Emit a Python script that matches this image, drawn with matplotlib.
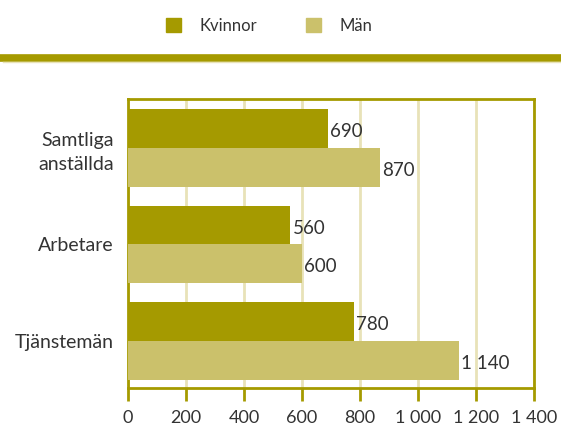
import matplotlib
matplotlib.use("Agg")
import matplotlib.pyplot as plt
from matplotlib.patches import Patch
from matplotlib.lines import Line2D
from matplotlib.ticker import FuncFormatter

plt.rcParams['font.family'] = ['Lato', 'DejaVu Sans']

categories = ["Samtliga\nanställda", "Arbetare", "Tjänstemän"]
kvinnor = [690, 560, 780]
man = [870, 600, 1140]
series_names = ["Kvinnor", "Män"]
xticks = [0, 200, 400, 600, 800, 1000, 1200, 1400]

dark = "#a59a00"
light = "#cbc16b"
grid = "#e8e2b8"
text_color = "#333333"


def fmt(v, pos=None):
    return f"{int(v):,}".replace(",", " ")


fig = plt.figure(figsize=(5.61, 4.28), dpi=100)
ax = fig.add_axes([0.228, 0.0935, 0.724, 0.675])

h = 0.4
ypos = list(range(len(categories)))
b1 = ax.barh([y - h / 2 for y in ypos], kvinnor, height=h, color=dark, zorder=3)
b2 = ax.barh([y + h / 2 for y in ypos], man, height=h, color=light, zorder=3)

for bars, vals in ((b1, kvinnor), (b2, man)):
    for bar, v in zip(bars, vals):
        ax.text(bar.get_width() + 7, bar.get_y() + bar.get_height() / 2 + 0.03,
                fmt(v), va="center", ha="left", fontsize=13.5, color=text_color)

ax.set_xlim(0, 1400)
ax.set_ylim(2.485, -0.505)
ax.set_xticks(xticks)
ax.xaxis.set_major_formatter(FuncFormatter(fmt))
ax.set_yticks(ypos)
ax.set_yticklabels(categories, fontsize=14, color=text_color, linespacing=1.45)
ax.tick_params(axis="y", length=0, pad=10)
ax.tick_params(axis="x", length=9, width=2, color=dark, labelsize=13,
               labelcolor=text_color, pad=7)
ax.grid(axis="x", color=grid, linewidth=2, zorder=0)
for s in ax.spines.values():
    s.set_color(dark)
    s.set_linewidth(2)

# legend on top
handles = [Patch(color=dark), Patch(color=light)]
fig.legend(handles, series_names, loc="center", bbox_to_anchor=(0.48, 0.94),
           ncol=2, frameon=False, handlelength=0.9, handleheight=0.9,
           handletextpad=1.15, columnspacing=2.9, fontsize=12,
           labelcolor=text_color)

fig.add_artist(Line2D([0.005, 1], [0.865, 0.865], color=dark, linewidth=5.5,
                      transform=fig.transFigure))
fig.add_artist(Line2D([0.005, 1], [0.856, 0.856], color=grid, linewidth=1,
                      transform=fig.transFigure))

fig.savefig("out.png", dpi=100)
